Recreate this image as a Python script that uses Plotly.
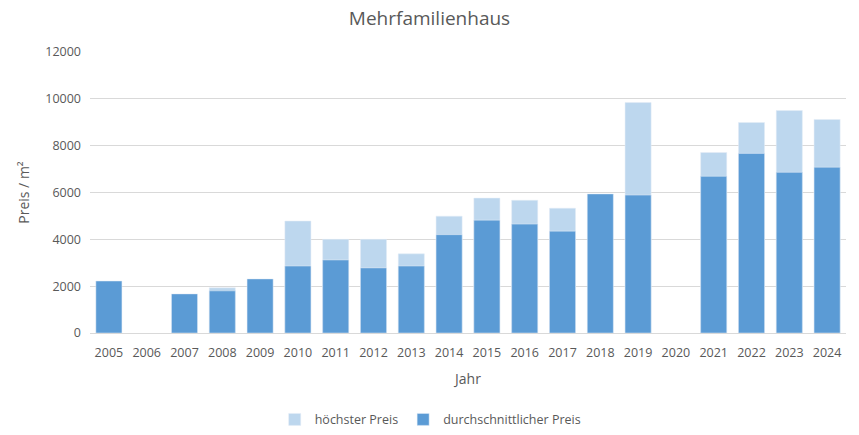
import plotly.graph_objects as go

years = [str(y) for y in range(2005, 2025)]
avg_price = [2220, None, 1670, 1800, 2310, 2860, 3120, 2780, 2860, 4200, 4820, 4650, 4350, 5940, 5890, None, 6690, 7670, 6860, 7080]
max_price = [None, None, None, 1930, None, 4780, 4000, 4000, 3380, 4990, 5760, 5670, 5330, None, 9840, None, 7710, 8990, 9500, 9120]

font_family = "Open Sans, Liberation Sans, sans-serif"
grey = "#595959"

fig = go.Figure()
fig.add_trace(go.Bar(x=years, y=max_price, name="höchster Preis", marker_color="#BDD7EE"))
fig.add_trace(go.Bar(x=years, y=avg_price, name="durchschnittlicher Preis", marker_color="#5B9BD5"))

fig.update_layout(
    width=859, height=435,
    margin=dict(l=90, r=13, t=52, b=102, autoexpand=False),
    barmode="overlay", bargap=0.31,
    paper_bgcolor="white", plot_bgcolor="white",
    font=dict(family=font_family, color=grey, size=13),
    title=dict(text="Mehrfamilienhaus", x=0.5, xanchor="center", y=0.958, yanchor="middle",
               font=dict(size=19, color=grey, family=font_family)),
    legend=dict(orientation="h", x=0.45, xanchor="center", yref="container", y=0.035, yanchor="middle",
                font=dict(size=12.5, color=grey), traceorder="normal"),
    showlegend=True,
)
fig.update_xaxes(type="category", showline=True, linecolor="#D9D9D9", ticks="", automargin=False,
                 tickfont=dict(size=12.5, color=grey), ticklabelstandoff=8,
                 title=dict(text="Jahr", font=dict(size=14, color=grey), standoff=14))
fig.update_yaxes(range=[0, 12000], dtick=2000, tickformat="d", showgrid=True, gridcolor="#D9D9D9",
                 zeroline=False, automargin=False,
                 tickfont=dict(size=12.5, color=grey), ticklabelstandoff=8,
                 title=dict(text="Preis / m²", font=dict(size=14, color=grey), standoff=12))

fig.write_html("out.html")
